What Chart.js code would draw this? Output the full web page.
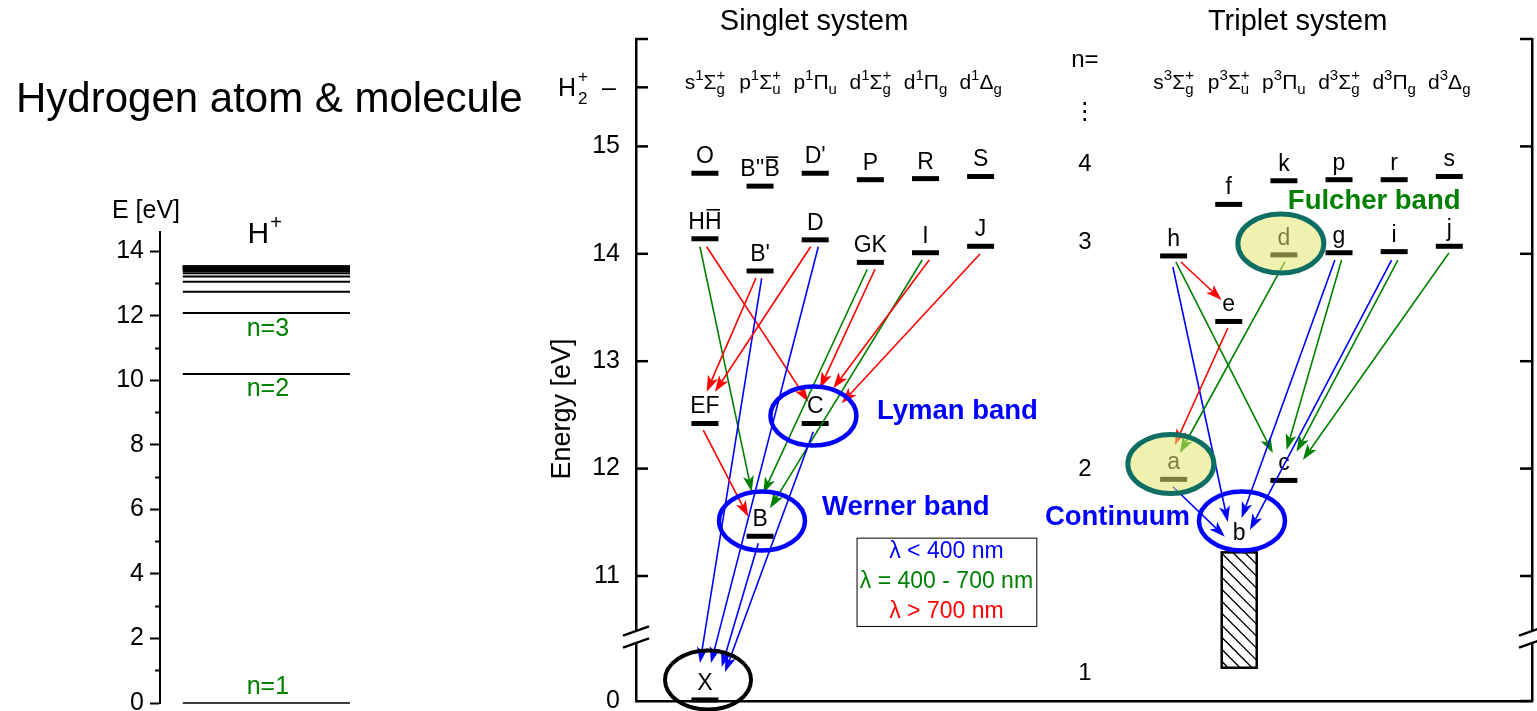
<!DOCTYPE html>
<html lang="en"><head><meta charset="utf-8"><title>Hydrogen atom &amp; molecule</title>
<script src="https://cdn.jsdelivr.net/npm/chart.js@4.4.1/dist/chart.umd.min.js"></script>
<style>
html,body{margin:0;padding:0;background:#fff;overflow:hidden;}
body{width:1537px;height:711px;position:relative;}
#ca{position:absolute;left:0;top:0;}
#cb{position:absolute;left:540px;top:0;}
</style></head><body>
<canvas id="ca" width="540" height="711"></canvas>
<canvas id="cb" width="997" height="711"></canvas>
<script>
const FONT = '"Liberation Sans", Arial, Helvetica, "DejaVu Sans", sans-serif';
Chart.defaults.font.family = FONT;
Chart.defaults.color = '#000';

// ===== Left panel: hydrogen atom (eV) =====
const atomLevels = [0, 10.20, 12.09, 12.75, 13.06, 13.22, 13.32, 13.39, 13.43, 13.46, 13.48, 13.50, 13.51, 13.52, 13.53, 13.54];
const atomTicks = [0,1,2,3,4,5,6,7,8,9,10,11,12,13,14];
const atomNLabels = ['n=1', 'n=2', 'n=3'];
const atomNEnergy = [0, 10.20, 12.09];

// ===== Right panel: H2 molecule =====
const upperTicks = [11, 12, 13, 14, 15, 15.55, 16];
const rightTicks = [11, 12, 13, 14, 15, 16];
const lowerTicks = [0];
const ionLimit = 15.55;
const upperRange = [10.432, 16];
const lowerRange = [0, 0.596];

const singletCols = [1, 2, 3, 4, 5, 6];
const tripletCols = [9.5, 10.5, 11.5, 12.5, 13.5, 14.5];
const headBase = ['s', 'p', 'p', 'd', 'd', 'd'];
const headSym  = ['Σ', 'Σ', 'Π', 'Σ', 'Π', 'Δ'];
const headSub  = ['g', 'u', 'u', 'g', 'g', 'g'];
const headSup  = ['+', '+', '', '+', '', ''];

const singletNames = ['X', 'EF', 'B', 'C', "B'", 'HH\u0304', 'D', 'GK', 'I', 'J', 'O', "B''B\u0304", "D'", 'P', 'R', 'S'];
const singletX     = [1, 1, 2, 3, 2, 1, 3, 4, 5, 6, 1, 2, 3, 4, 5, 6];
const singletE     = [0.01, 12.42, 11.37, 12.42, 13.84, 14.14, 14.13, 13.92, 14.01, 14.07, 14.75, 14.63, 14.75, 14.69, 14.70, 14.72];

const tripletNames = ['a', 'c', 'e', 'h', 'd', 'g', 'i', 'j', 'f', 'k', 'p', 'r', 's'];
const tripletX     = [9.5, 11.5, 10.5, 9.5, 11.5, 12.5, 13.5, 14.5, 10.5, 11.5, 12.5, 13.5, 14.5];
const tripletE     = [11.90, 11.89, 13.37, 13.98, 13.99, 14.01, 14.02, 14.07, 14.46, 14.68, 14.69, 14.69, 14.72];

// repulsive b state (continuum)
const contX = 10.69, contTop = 11.22, contBottom = 0.31;

// n = row labels
const rowLabels = ['n=', '\u22EE', '4', '3', '2', '1'];
const rowX = 7.89;
const rowE = [15.80, 15.32, 14.83, 14.11, 11.99, 0.26];

// transitions: colour, upper (x,E) -> lower (x,E)
const arrowColor = ['g','r','r','b','r','b','g','r','g','r','r','r','b','b',
                    'r','b','g','g','r','b','g','b','g','g','b'];
const arrowX1 = [0.910, 1.032, 1.926, 2.029, 2.918, 3.056, 3.944, 4.084, 4.941, 5.068, 5.988, 0.970, 2.965, 1.968,
                 9.632, 9.487, 9.541, 11.518, 10.484, 12.425, 12.546, 13.453, 13.567, 14.492, 9.487];
const arrowE1 = [14.066, 14.066, 13.775, 13.772, 14.066, 14.066, 13.856, 13.856, 13.942, 13.942, 13.998, 12.359, 12.344, 11.304,
                 13.924, 13.877, 13.924, 13.924, 13.309, 13.942, 13.942, 13.942, 13.942, 14.007, 11.831];
const arrowX2 = [1.848, 2.874, 1.032, 0.910, 1.182, 1.110, 2.058, 3.086, 2.180, 3.328, 3.480, 1.786, 1.364, 1.304,
                 10.370, 10.484, 11.300, 9.614, 9.523, 10.733, 11.549, 10.883, 11.730, 11.844, 10.430];
const arrowE2 = [11.785, 12.623, 12.716, 0.354, 12.716, 0.354, 11.770, 12.748, 11.630, 12.748, 12.608, 11.552, 0.270, 0.317,
                 13.570, 11.503, 12.145, 12.145, 12.220, 11.540, 12.173, 11.428, 12.157, 12.080, 11.366];

// highlighted states (ellipses)
const ellX = [1.056, 2.035, 2.968, 9.45, 11.445, 10.74];
const ellE = [0.196, 11.512, 12.49, 12.043, 14.096, 11.512];
const ellKind = ['black', 'blue', 'blue', 'fill', 'fill', 'blue'];

// band names
const bandText = ['Lyman band', 'Werner band', 'Continuum', 'Fulcher band'];
const bandX = [4.12, 3.123, 7.166, 11.572];
const bandE = [12.536, 11.643, 11.55, 14.49];
const bandColor = ['#0000ff', '#0000ff', '#0000ff', '#008000'];

// wavelength key
const keyText = ['\u03BB < 400 nm', '\u03BB = 400 - 700 nm', '\u03BB > 700 nm'];
const keyColor = ['#0000ff', '#008000', '#ff0000'];
const keyBoxX = [3.75, 7.01];
const keyBoxE = [11.357, 10.535];

const systemTitles = ['Singlet system', 'Triplet system'];
const systemTitleX = [2.98, 11.75];

const COLORS = {b: '#0000ff', g: '#008000', r: '#ff0000'};

// ---------- helpers ----------
function txt(ctx, s, x, y, size, o = {}) {
  ctx.save();
  ctx.font = (o.bold ? 'bold ' : '') + size + 'px ' + FONT;
  ctx.fillStyle = o.color || '#000';
  ctx.textAlign = o.align || 'center';
  ctx.textBaseline = o.base || 'middle';
  if (o.rot) { ctx.translate(x, y); ctx.rotate(o.rot); ctx.fillText(s, 0, 0); }
  else ctx.fillText(s, x, y);
  ctx.restore();
}
function stateLabel(ctx, name, x, yBase, size) {
  ctx.save();
  ctx.font = size + 'px ' + FONT; ctx.textAlign = 'left'; ctx.textBaseline = 'alphabetic'; ctx.fillStyle = '#000';
  const mac = name.indexOf('\u0304');
  const plain = name.replace('\u0304', '');
  const w = ctx.measureText(plain).width;
  const x0 = x - w / 2;
  ctx.fillText(plain, x0, yBase);
  if (mac > 0) {
    const bx = x0 + ctx.measureText(plain.slice(0, mac - 1)).width;
    const cw = ctx.measureText(plain[mac - 1]).width;
    ctx.fillRect(bx + 1.5, yBase - size * 0.86, cw - 3, 1.6);
  }
  ctx.restore();
}
function header(ctx, cx, yb, base, mult, sym, sub, sup) {
  const B = 21, S = 15;
  ctx.save(); ctx.fillStyle = '#000'; ctx.textAlign = 'left'; ctx.textBaseline = 'alphabetic';
  ctx.font = B + 'px ' + FONT; const wb = ctx.measureText(base).width, ws = ctx.measureText(sym).width;
  ctx.font = S + 'px ' + FONT; const wm = ctx.measureText(mult).width;
  const wsub = Math.max(ctx.measureText(sub).width, ctx.measureText(sup).width);
  let x = cx - (wb + wm + ws + wsub) / 2;
  ctx.font = B + 'px ' + FONT; ctx.fillText(base, x, yb); x += wb;
  ctx.font = S + 'px ' + FONT; ctx.fillText(mult, x, yb - 9); x += wm;
  ctx.font = B + 'px ' + FONT; ctx.fillText(sym, x, yb); x += ws;
  ctx.font = S + 'px ' + FONT; ctx.fillText(sub, x, yb + 5); if (sup) ctx.fillText(sup, x, yb - 9);
  ctx.restore();
}
function drawArrow(ctx, x1, y1, x2, y2, color) {
  const a = Math.atan2(y2 - y1, x2 - x1), c = Math.cos(a), s = Math.sin(a);
  const L = 16, W = 5.5, N = 12;
  ctx.strokeStyle = color; ctx.fillStyle = color; ctx.lineWidth = 1.6;
  ctx.beginPath(); ctx.moveTo(x1, y1); ctx.lineTo(x2 - N * c, y2 - N * s); ctx.stroke();
  ctx.beginPath();
  ctx.moveTo(x2, y2);
  ctx.lineTo(x2 - L * c - W * s, y2 - L * s + W * c);
  ctx.lineTo(x2 - N * c, y2 - N * s);
  ctx.lineTo(x2 - L * c + W * s, y2 - L * s - W * c);
  ctx.closePath(); ctx.fill();
}

// ---------- left chart ----------
const atomPlugin = {
  id: 'atom',
  afterDatasetsDraw(chart) {
    const {ctx, chartArea: ca, scales: sc} = chart;
    txt(ctx, 'Hydrogen atom & molecule', 16, 100, 42, {align: 'left'});
    txt(ctx, 'E [eV]', ca.left - 14, ca.top - 21, 25);
    const hx = sc.x.getPixelForValue(0.55);
    ctx.save();
    ctx.fillStyle = '#000'; ctx.textBaseline = 'alphabetic'; ctx.textAlign = 'left';
    ctx.font = '30px ' + FONT; const wH = ctx.measureText('H').width;
    ctx.fillText('H', hx - 17, ca.top + 11);
    ctx.font = '20px ' + FONT; ctx.fillText('+', hx - 17 + wH + 1, ca.top - 3);
    ctx.restore();
    const shifts = [-16, 15, 16];
    atomNLabels.forEach((t, i) => {
      txt(ctx, t, sc.x.getPixelForValue(0.568), sc.y.getPixelForValue(atomNEnergy[i]) + shifts[i], 25, {color: '#008000'});
    });
  }
};
new Chart(document.getElementById('ca'), {
  type: 'line',
  data: {datasets: atomLevels.map((e, i) => ({
    data: [{x: 0.12, y: e}, {x: 1, y: e}], borderColor: '#000', borderWidth: i === 0 ? 1.5 : 2,
    pointRadius: 0, fill: false, clip: false
  }))},
  options: {
    responsive: false, animation: false, devicePixelRatio: 1, events: [],
    layout: {autoPadding: false, padding: {top: 232, bottom: 8, left: 0, right: 190}},
    plugins: {legend: {display: false}, tooltip: {enabled: false}},
    scales: {
      x: {type: 'linear', min: 0, max: 1, display: false},
      y: {
        type: 'linear', min: 0, max: 14.6,
        afterBuildTicks: s => { s.ticks = atomTicks.map(v => ({value: v})); },
        afterFit: s => { s.width = 160; s.paddingTop = 0; s.paddingBottom = 0; },
        ticks: {autoSkip: false, padding: 6, font: {size: 25}, color: '#000',
          callback: v => (v % 2 === 0 ? String(v) : '')},
        grid: {display: true, drawOnChartArea: false, drawTicks: true, tickLength: 10, tickWidth: 2,
          tickColor: '#000', tickBorderDash: [10, 100],
          tickBorderDashOffset: c => (c.tick && c.tick.value % 2 ? 105 : 0)},
        border: {display: true, color: '#000', width: 2}
      }
    }
  },
  plugins: [atomPlugin]
});

// ---------- right chart ----------
const molPlugin = {
  id: 'mol',
  afterDatasetsDraw(chart) {
    const {ctx, chartArea: ca, scales: sc} = chart;
    const X = v => sc.x.getPixelForValue(v);
    const Y = e => (e >= upperRange[0] ? sc.yTop : sc.yBot).getPixelForValue(e);
    ctx.save();
    // titles and column headers
    systemTitles.forEach((t, i) => txt(ctx, t, X(systemTitleX[i]), ca.top - 17, 29));
    singletCols.forEach((c, i) => header(ctx, X(c), ca.top + 50, headBase[i], '1', headSym[i], headSub[i], headSup[i]));
    tripletCols.forEach((c, i) => header(ctx, X(c), ca.top + 50, headBase[i], '3', headSym[i], headSub[i], headSup[i]));
    rowLabels.forEach((t, i) => txt(ctx, t, X(rowX), Y(rowE[i]), 24));
    // state labels
    singletNames.forEach((n, i) => stateLabel(ctx, n, X(singletX[i]), Y(singletE[i]) - 10, 23));
    tripletNames.forEach((n, i) => stateLabel(ctx, n, X(tripletX[i]), Y(tripletE[i]) - 10, 23));
    // continuum box
    const bx = X(contX) - 17.5, bw = 35, by = Y(contTop), bh = Y(contBottom) - by;
    ctx.save();
    ctx.fillStyle = '#fff'; ctx.fillRect(bx, by, bw, bh);
    ctx.beginPath(); ctx.rect(bx, by, bw, bh); ctx.clip();
    ctx.strokeStyle = '#000'; ctx.lineWidth = 1.4;
    for (let k = -bw; k < bh + bw; k += 12) {
      ctx.beginPath(); ctx.moveTo(bx, by + k); ctx.lineTo(bx + bw, by + k + bw); ctx.stroke();
    }
    ctx.restore();
    ctx.strokeStyle = '#000'; ctx.lineWidth = 2.5; ctx.strokeRect(bx, by, bw, bh);
    txt(ctx, 'b', X(contX), by - 19, 23);
    // transitions
    arrowColor.forEach((c, i) => drawArrow(ctx, X(arrowX1[i]), Y(arrowE1[i]), X(arrowX2[i]), Y(arrowE2[i]), COLORS[c]));
    // ellipses
    ellKind.forEach((k, i) => {
      ctx.beginPath(); ctx.ellipse(X(ellX[i]), Y(ellE[i]), 43, 29.5, 0, 0, Math.PI * 2);
      if (k === 'fill') {
        ctx.fillStyle = 'rgba(225,232,110,0.55)'; ctx.fill();
        ctx.strokeStyle = '#0f6e64'; ctx.lineWidth = 5;
      } else {
        ctx.strokeStyle = k === 'blue' ? '#0000ff' : '#000'; ctx.lineWidth = k === 'blue' ? 4.5 : 4;
      }
      ctx.stroke();
    });
    // band names
    bandText.forEach((t, i) => txt(ctx, t, X(bandX[i]), Y(bandE[i]), 27.5, {bold: true, align: 'left', color: bandColor[i]}));
    // wavelength key
    const kx1 = X(keyBoxX[0]), kx2 = X(keyBoxX[1]), ky1 = Y(keyBoxE[0]), ky2 = Y(keyBoxE[1]);
    ctx.fillStyle = '#fff'; ctx.fillRect(kx1, ky1, kx2 - kx1, ky2 - ky1);
    ctx.strokeStyle = '#000'; ctx.lineWidth = 1; ctx.strokeRect(kx1 + 0.5, ky1 + 0.5, kx2 - kx1, ky2 - ky1);
    keyText.forEach((t, i) => txt(ctx, t, (kx1 + kx2) / 2, ky1 + 14 + i * 30, 23, {color: keyColor[i]}));
    // inward ticks
    ctx.strokeStyle = '#000'; ctx.lineWidth = 2.5;
    const tick = (x1, x2, y) => { ctx.beginPath(); ctx.moveTo(x1, y); ctx.lineTo(x2, y); ctx.stroke(); };
    sc.yTop.ticks.forEach(t => tick(ca.left, ca.left + 12, sc.yTop.getPixelForValue(t.value)));
    sc.yTopR.ticks.forEach(t => tick(ca.right - 12, ca.right, sc.yTopR.getPixelForValue(t.value)));
    sc.yBotR.ticks.forEach(t => tick(ca.right - 12, ca.right, sc.yBotR.getPixelForValue(t.value)));
    // axis breaks
    const yb = sc.yTop.bottom;
    [ca.left, ca.right].forEach(xa => {
      ctx.fillStyle = '#fff'; ctx.fillRect(xa - 3, yb - 6, 6, 12);
      ctx.strokeStyle = '#000'; ctx.lineWidth = 2.5;
      [-6, 6].forEach(d => { ctx.beginPath(); ctx.moveTo(xa - 13, yb + d + 4.6); ctx.lineTo(xa + 13, yb + d - 4.6); ctx.stroke(); });
    });
    // H2+ ionisation label
    const py = sc.yTop.getPixelForValue(ionLimit), ax = ca.left;
    ctx.fillStyle = '#000'; ctx.textAlign = 'left'; ctx.textBaseline = 'alphabetic';
    ctx.font = '25px ' + FONT; ctx.fillText('H', ax - 78, py + 9); ctx.fillText('\u2013', ax - 34, py + 9);
    ctx.font = '17px ' + FONT; ctx.fillText('2', ax - 58, py + 17); ctx.fillText('+', ax - 58, py - 5);
    // y title
    txt(ctx, 'Energy [eV]', ax - 73, (ca.top + ca.bottom) / 2 + 39, 27, {rot: -Math.PI / 2});
    ctx.restore();
  }
};

const upperPts = [], lowerPts = [];
singletNames.forEach((n, i) => (singletE[i] >= upperRange[0] ? upperPts : lowerPts).push({x: singletX[i], y: singletE[i]}));
tripletNames.forEach((n, i) => upperPts.push({x: tripletX[i], y: tripletE[i]}));

function buildScales(flipL, flipR) {
  const mk = (pos, stack, weight, range, ticks, labels) => ({
    type: 'linear', position: pos, stack: stack, stackWeight: weight, min: range[0], max: range[1],
    afterBuildTicks: s => { s.ticks = ticks.map(v => ({value: v})); },
    afterFit: s => { s.width = labels ? 96 : 0; s.paddingTop = 0; s.paddingBottom = 0; },
    ticks: {display: labels, autoSkip: false, padding: 16, font: {size: 25}, color: '#000',
      callback: v => (v === ionLimit || v === 16 ? '' : String(v))},
    grid: {display: false, drawTicks: false, drawOnChartArea: false},
    border: {display: true, color: '#000', width: 2.5}
  });
  const L = [['yTop', mk('left', 'L', 598, upperRange, upperTicks, true)], ['yBot', mk('left', 'L', 64, lowerRange, lowerTicks, true)]];
  const R = [['yTopR', mk('right', 'R', 598, upperRange, rightTicks, false)], ['yBotR', mk('right', 'R', 64, lowerRange, lowerTicks, false)]];
  if (flipL) L.reverse();
  if (flipR) R.reverse();
  const scales = {
    x: {type: 'linear', min: -0.25, max: 16, position: 'bottom',
      ticks: {display: false}, grid: {display: false, drawTicks: false},
      border: {display: true, color: '#000', width: 2.5},
      afterFit: s => { s.height = 0; s.paddingLeft = 0; s.paddingRight = 0; }}
  };
  L.concat(R).forEach(([k, v]) => { scales[k] = v; });
  return scales;
}
function makeChartB(flipL, flipR) {
  return new Chart(document.getElementById('cb'), {
    type: 'scatter',
    data: {datasets: [
      {data: upperPts, xAxisID: 'x', yAxisID: 'yTop', pointStyle: 'line', pointRadius: 13.5, borderWidth: 5,
        borderColor: '#000', backgroundColor: '#000', clip: false},
      {data: lowerPts, xAxisID: 'x', yAxisID: 'yBot', pointStyle: 'line', pointRadius: 13.5, borderWidth: 5,
        borderColor: '#000', backgroundColor: '#000', clip: false}
    ]},
    options: {
      responsive: false, animation: false, devicePixelRatio: 1, events: [],
      layout: {autoPadding: false, padding: {top: 39, bottom: 10, left: 0, right: 5}},
      plugins: {legend: {display: false}, tooltip: {enabled: false}},
      scales: buildScales(flipL, flipR)
    },
    plugins: [molPlugin]
  });
}
let chartB = makeChartB(false, false);
const needL = chartB.scales.yTop.top > chartB.scales.yBot.top;
const needR = chartB.scales.yTopR.top > chartB.scales.yBotR.top;
if (needL || needR) { chartB.destroy(); chartB = makeChartB(needL, needR); }
</script>
</body></html>
